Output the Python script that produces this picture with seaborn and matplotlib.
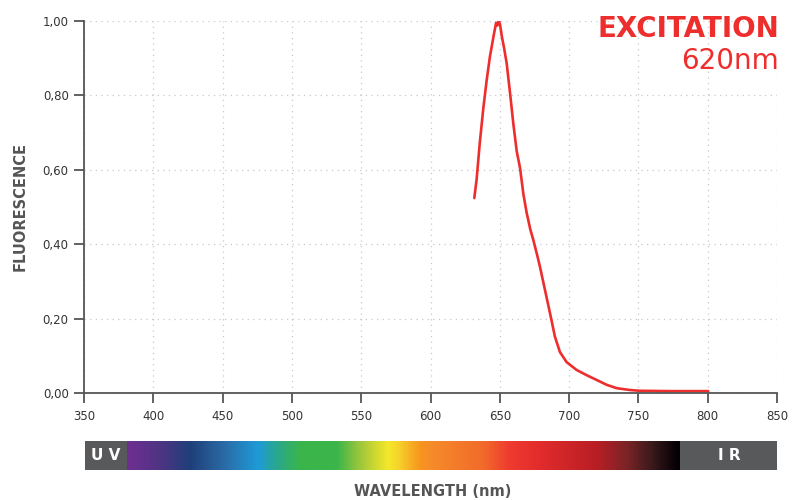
import numpy as np
import pandas as pd
import seaborn as sns
import matplotlib
matplotlib.use("Agg")
import matplotlib.pyplot as plt
from matplotlib.colors import LinearSegmentedColormap
from matplotlib.patches import Rectangle
from matplotlib.ticker import MultipleLocator

# ---- data ----
wavelength = [631.6, 633.3, 635.5, 638.1, 640.5, 642.9, 645.3, 647.3, 648.3,
              649.3, 650.2, 651.4, 653.2, 655.0, 657.4, 659.7, 662.2, 664.6, 667.0,
              669.4, 672.0, 674.2, 677.0, 679.0, 682.6, 686.2, 689.8, 693.4, 698.2,
              705.4, 712.6, 719.9, 727.1, 734.3, 743.9, 751.1, 772.8, 800.4]
fluorescence = [0.524, 0.575, 0.670, 0.765, 0.840, 0.905, 0.955, 0.995, 0.988,
                1.000, 0.990, 0.960, 0.925, 0.885, 0.806, 0.726, 0.650, 0.605, 0.535,
                0.484, 0.440, 0.411, 0.370, 0.339, 0.277, 0.215, 0.151, 0.110, 0.083,
                0.062, 0.048, 0.035, 0.022, 0.013, 0.008, 0.006, 0.005, 0.005]

x_ticks = [350, 400, 450, 500, 550, 600, 650, 700, 750, 800, 850]
y_ticks = [0.0, 0.2, 0.4, 0.6, 0.8, 1.0]
y_tick_labels = ["0,00", "0,20", "0,40", "0,60", "0,80", "1,00"]

spectrum_nm = [381, 384, 405, 426, 450, 475, 489, 506, 532, 550, 569, 576, 592, 602,
               638, 657, 681, 720, 742, 760, 778, 780]
spectrum_colors = ["#6b2f8f", "#6b2f8f", "#4c3582", "#1f3f7a", "#2a6aa5", "#1e9bd7",
                   "#2aa88a", "#3ab54a", "#3ab54a", "#a5c83a", "#f5e82a", "#f5d52a",
                   "#f7961f", "#f58a2a", "#f26a2a", "#ee3a2f", "#e02b2b", "#b81e24",
                   "#7a2427", "#3a1a1c", "#050005", "#050005"]

title_line1 = "EXCITATION"
title_line2 = "620nm"

# ---- style ----
sns.set_style("white")
plt.rcParams['font.family'] = ['DejaVu Sans']

W, H = 801, 500
fig = plt.figure(figsize=(W / 100, H / 100), dpi=100)
ax = fig.add_axes([84 / W, 1 - 393 / H, (777 - 84) / W, (393 - 21) / H])

df = pd.DataFrame({"wavelength": wavelength, "fluorescence": fluorescence})
sns.lineplot(data=df, x="wavelength", y="fluorescence", ax=ax, color="#ee2d2d",
             linewidth=1.9, sort=False)

ax.set_xlim(350, 850)
ax.set_ylim(0, 1.0)
ax.set_xticks(x_ticks)
ax.set_xticklabels([str(v) for v in x_ticks])
ax.xaxis.set_minor_locator(MultipleLocator(10))
ax.set_yticks(y_ticks)
ax.set_yticklabels(y_tick_labels)

ax.grid(True, which="major", color="#c8c8c8", linestyle=(0, (1, 3.5)), linewidth=0.9)
ax.set_axisbelow(True)

for side in ["top", "right"]:
    ax.spines[side].set_visible(False)
for side in ["left", "bottom"]:
    ax.spines[side].set_color("#555555")
    ax.spines[side].set_linewidth(1.3)

ax.tick_params(axis="x", which="major", direction="out", length=7, width=1.3,
               color="#555555", labelsize=8.5, labelcolor="#333333", pad=5)
ax.tick_params(axis="x", which="minor", direction="out", length=3.5, width=1.0,
               color="#555555")
ax.tick_params(axis="y", which="major", direction="out", length=7, width=1.3,
               color="#555555", labelsize=8.5, labelcolor="#333333", pad=4)
ax.tick_params(axis="x", which="major", bottom=True)
ax.tick_params(axis="y", which="major", left=True)

ax.set_xlabel("")
ax.set_ylabel("")

fig.text(20 / W, 1 - 207 / H, "FLUORESCENCE", rotation=90, ha="center", va="center",
         fontsize=10.5, fontweight="bold", color="#555555")
fig.text(433 / W, 1 - 491 / H, "WAVELENGTH (nm)", ha="center", va="center",
         fontsize=10.5, fontweight="bold", color="#555555")

fig.text(779 / W, 1 - 29 / H, title_line1, ha="right", va="center",
         fontsize=20, fontweight="bold", color="#ee2d2d")
fig.text(779 / W, 1 - 61 / H, title_line2, ha="right", va="center",
         fontsize=20, fontweight="normal", color="#ee2d2d")

# ---- spectrum bar ----
cax = fig.add_axes([84 / W, 1 - 470 / H, (777 - 84) / W, 29 / H])
cax.set_xlim(350, 850)
cax.set_ylim(0, 1)
cax.axis("off")
lo, hi = spectrum_nm[0], spectrum_nm[-1]
stops = [(v - lo) / (hi - lo) for v in spectrum_nm]
cmap = LinearSegmentedColormap.from_list("spec", list(zip(stops, spectrum_colors)))
grad = np.linspace(0, 1, 800).reshape(1, -1)
cax.imshow(grad, aspect="auto", cmap=cmap, extent=[lo, hi, 0, 1], interpolation="bilinear")
cax.add_patch(Rectangle((350.5, 0), lo - 350.5, 1, color="#58595b", lw=0))
cax.add_patch(Rectangle((hi, 0), 850.5 - hi, 1, color="#58595b", lw=0))
cax.text((350.5 + lo) / 2, 0.5, "U V", ha="center", va="center", color="white",
         fontsize=11, fontweight="bold")
cax.text((hi + 850.5) / 2, 0.5, "I R", ha="center", va="center", color="white",
         fontsize=11, fontweight="bold")
cax.set_xlim(350, 850)

fig.savefig("out.png", dpi=100)
